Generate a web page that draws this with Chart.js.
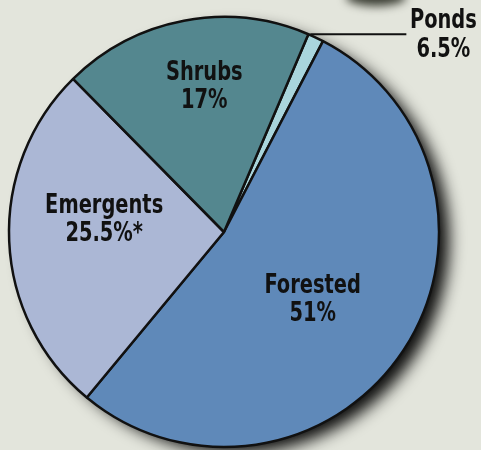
<!DOCTYPE html>
<html>
<head>
<meta charset="utf-8">
<script src="https://cdn.jsdelivr.net/npm/chart.js@4/dist/chart.umd.min.js"></script>
<style>
  html, body { margin: 0; padding: 0; background: #e3e5dc; }
  #wrap { width: 481px; height: 450px; }
</style>
</head>
<body>
<div id="wrap"><canvas id="pie" width="481" height="450"></canvas></div>
<script>
// --- data (slice sizes, labels as printed) ---
const categories = ['Ponds', 'Forested', 'Emergents', 'Shrubs'];
const sliceValues = [1.2, 53.4, 26.6, 18.8];
const printedLabels = ['6.5%', '51%', '25.5%*', '17%'];

const sliceColors = ['#a9d5dc', '#5f89b9', '#abb7d5', '#54878f'];
const labelFont = 'bold 27px "DejaVu Sans Condensed", "Liberation Sans Narrow", sans-serif';
const squeeze = 0.8; // narrow the type like the printed condensed face

// where to put each inside label: [fraction of radius, angle nudge in degrees]
const labelPlace = { Forested: [0.52, 4], Emergents: [0.56, 8], Shrubs: [0.68, 3] };

// drop shadow under the pie + stray dark smudge at the top edge
const shadowPlugin = {
  id: 'pieShadow',
  beforeDatasetsDraw(chart) {
    const arc = chart.getDatasetMeta(0).data[0];
    if (!arc) return;
    const ctx = chart.ctx;
    ctx.save();
    ctx.filter = 'blur(5px)';
    ctx.fillStyle = '#3a3d33';
    ctx.beginPath();
    ctx.ellipse(376, -3, 30, 9, 0, 0, Math.PI * 2);
    ctx.fill();
    ctx.restore();

    ctx.save();
    ctx.shadowColor = 'rgba(0,0,0,0.95)';
    ctx.shadowBlur = 16;
    ctx.shadowOffsetX = 12;
    ctx.shadowOffsetY = 8;
    ctx.beginPath();
    ctx.arc(arc.x, arc.y, arc.outerRadius - 2, 0, Math.PI * 2);
    ctx.fillStyle = '#222';
    ctx.fill();
    ctx.restore();
  }
};

function squeezedText(ctx, text, x, y) {
  ctx.save();
  ctx.translate(x, y);
  ctx.scale(squeeze, 1);
  ctx.fillText(text, 0, 0);
  ctx.restore();
}

// slice labels, plus leader line for the tiny Ponds slice
const labelPlugin = {
  id: 'sliceLabels',
  afterDatasetsDraw(chart) {
    const ctx = chart.ctx;
    const meta = chart.getDatasetMeta(0);
    ctx.save();
    ctx.font = labelFont;
    ctx.fillStyle = '#111';
    ctx.textBaseline = 'middle';
    ctx.textAlign = 'center';
    meta.data.forEach((arc, i) => {
      const name = categories[i];
      const mid = (arc.startAngle + arc.endAngle) / 2;
      if (name === 'Ponds') {
        const px = arc.x + arc.outerRadius * Math.cos(arc.startAngle);
        const py = arc.y + arc.outerRadius * Math.sin(arc.startAngle);
        ctx.beginPath();
        ctx.moveTo(px + 2, py);
        ctx.lineTo(px + 98, py);
        ctx.lineWidth = 2;
        ctx.strokeStyle = '#111';
        ctx.stroke();
        squeezedText(ctx, name, px + 135, py - 13);
        squeezedText(ctx, printedLabels[i], px + 135, py + 16);
        return;
      }
      const p = labelPlace[name];
      const a = mid + p[1] * Math.PI / 180;
      const r = arc.outerRadius * p[0];
      const x = arc.x + r * Math.cos(a);
      const y = arc.y + r * Math.sin(a);
      squeezedText(ctx, name, x, y - 14);
      squeezedText(ctx, printedLabels[i], x, y + 14);
    });
    ctx.restore();
  }
};

new Chart(document.getElementById('pie').getContext('2d'), {
  type: 'pie',
  data: {
    labels: categories,
    datasets: [{
      data: sliceValues,
      backgroundColor: sliceColors,
      borderColor: '#111',
      borderWidth: 2.5
    }]
  },
  options: {
    responsive: false,
    animation: false,
    rotation: 23.1,
    radius: 215,
    layout: { padding: { left: 0, right: 33, top: 14, bottom: 0 } },
    plugins: {
      legend: { display: false },
      tooltip: { enabled: false }
    }
  },
  plugins: [shadowPlugin, labelPlugin]
});
</script>
</body>
</html>
